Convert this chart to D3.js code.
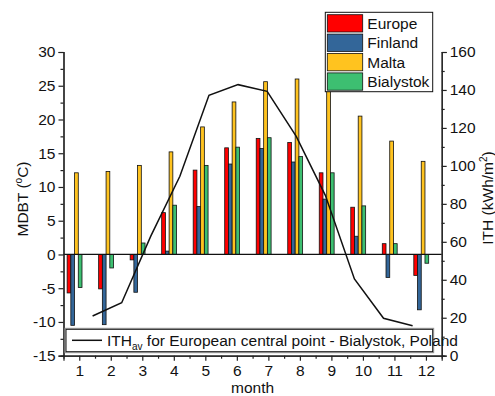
<!DOCTYPE html>
<html>
<head>
<meta charset="utf-8">
<script src="https://cdn.jsdelivr.net/npm/d3@7"></script>
<style>
  body { margin: 0; background: #fff; }
  text { font-family: "Liberation Sans", Arial, sans-serif; fill: #111; }
</style>
</head>
<body>
<div id="chart"></div>
<script>
// monthly mean daily temperatures (°C) and irradiation (kWh/m2)
var months = [1, 2, 3, 4, 5, 6, 7, 8, 9, 10, 11, 12];
var europe = [-5.7, -5.1, -0.8, 6.2, 12.5, 15.8, 17.2, 16.6, 12.1, 7.0, 1.6, -3.1];
var finland = [-10.5, -10.4, -5.6, 0.5, 7.1, 13.4, 15.7, 13.7, 8.2, 2.7, -3.4, -8.2];
var malta = [12.1, 12.3, 13.2, 15.2, 18.9, 22.6, 25.6, 26.0, 24.5, 20.5, 16.8, 13.8];
var bialystok = [-4.9, -2.0, 1.7, 7.3, 13.2, 15.9, 17.3, 14.5, 12.1, 7.2, 1.6, -1.3];
var ith = [20.9, 27.9, 63, 94.5, 137.2, 142.8, 139.3, 115.5, 84.5, 40.4, 19.7, 15.8];

var seriesNames = ["Europe", "Finland", "Malta", "Bialystok"];
var seriesColors = ["#ff0000", "#336699", "#ffc31f", "#3dbf71"];
var leftTicks = [-15, -10, -5, 0, 5, 10, 15, 20, 25, 30];
var rightTicks = [0, 20, 40, 60, 80, 100, 120, 140, 160];
var lineLabel = "for European central point - Bialystok, Poland";

var W = 495, H = 396;
var FS = "15.5px";
var margin = {top: 52, right: 53.3, bottom: 40.3, left: 63.5};
var width = W - margin.left - margin.right,
    height = H - margin.top - margin.bottom;

var svg = d3.select("#chart").append("svg")
  .attr("width", W).attr("height", H);
var g = svg.append("g")
  .attr("transform", "translate(" + margin.left + "," + margin.top + ")");

// scales
var x = d3.scaleLinear().domain([0.5, 12.5]).range([0, width]);
var xLine = d3.scaleLinear().domain([0, 13]).range([0, width]);
var y = d3.scaleLinear().domain([-15, 30]).range([height, 0]);
var y2 = d3.scaleLinear().domain([0, 160]).range([height, 0]);

var step = x(2) - x(1);
var barW = step * 0.118;
var groupOff = -step * 0.385;

// bars
var allSeries = [europe, finland, malta, bialystok];
allSeries.forEach(function(vals, si) {
  g.append("g").selectAll("rect")
    .data(vals)
    .enter().append("rect")
      .attr("x", function(d, i) { return x(months[i]) + groupOff + si * barW; })
      .attr("y", function(d) { return y(Math.max(0, d)); })
      .attr("width", barW)
      .attr("height", function(d) { return Math.abs(y(d) - y(0)); })
      .attr("fill", seriesColors[si])
      .attr("stroke", "#111")
      .attr("stroke-width", 0.8);
});

// zero line
g.append("line")
  .attr("x1", 0).attr("x2", width)
  .attr("y1", y(0)).attr("y2", y(0))
  .attr("stroke", "#111").attr("stroke-width", 1.2);

// ITH line
g.append("path")
  .datum(ith)
  .attr("fill", "none")
  .attr("stroke", "#111")
  .attr("stroke-width", 1.5)
  .attr("d", d3.line()
    .x(function(d, i) { return xLine(months[i]); })
    .y(function(d) { return y2(d); }));

// axes
function styleAxis(sel) {
  sel.selectAll("path, line").attr("stroke", "#222").attr("stroke-width", 1.2);
  sel.selectAll("text").attr("font-size", FS).attr("fill", "#111");
}

var minorLeft = d3.range(-12.5, 30, 5);
var minorRight = d3.range(10, 160, 20);
var minorBottom = d3.range(1.5, 12.5, 1);

g.append("g")
  .call(d3.axisLeft(y).tickValues(minorLeft).tickSize(3).tickFormat(""))
  .call(styleAxis);
g.append("g")
  .call(d3.axisLeft(y).tickValues(leftTicks).tickSize(5).tickPadding(3)
    .tickFormat(function(d) { return d; }))
  .call(styleAxis);

g.append("g")
  .attr("transform", "translate(" + width + ",0)")
  .call(d3.axisRight(y2).tickValues(minorRight).tickSize(3).tickFormat(""))
  .call(styleAxis);
g.append("g")
  .attr("transform", "translate(" + width + ",0)")
  .call(d3.axisRight(y2).tickValues(rightTicks).tickSize(5).tickPadding(3))
  .call(styleAxis);

g.append("g")
  .attr("transform", "translate(0," + height + ")")
  .call(d3.axisBottom(x).tickValues(minorBottom).tickSize(3).tickFormat(""))
  .call(styleAxis);
g.append("g")
  .attr("transform", "translate(0," + height + ")")
  .call(d3.axisBottom(x).tickValues(months).tickSize(5).tickPadding(4))
  .call(styleAxis);

// axis titles
svg.append("text")
  .attr("x", x(6.5) + margin.left).attr("y", 393)
  .attr("text-anchor", "middle").attr("font-size", FS)
  .text("month");

var lt = svg.append("text")
  .attr("transform", "translate(28,199) rotate(-90)")
  .attr("text-anchor", "middle").attr("font-size", FS);
lt.append("tspan").text("MDBT (");
lt.append("tspan").attr("dy", -6).attr("font-size", "10px").text("o");
lt.append("tspan").attr("dy", 6).text("C)");

var rt = svg.append("text")
  .attr("transform", "translate(493,198) rotate(-90)")
  .attr("text-anchor", "middle").attr("font-size", FS);
rt.append("tspan").text("ITH (kWh/m");
rt.append("tspan").attr("dy", -6).attr("font-size", "10px").text("2");
rt.append("tspan").attr("dy", 6).text(")");

// bars legend
var leg = svg.append("g").attr("transform", "translate(325.3,12.3)");
leg.append("rect")
  .attr("width", 107.4).attr("height", 79.4)
  .attr("fill", "#fff").attr("stroke", "#111").attr("stroke-width", 1);
seriesNames.forEach(function(name, i) {
  leg.append("rect")
    .attr("x", 2).attr("y", 2.4 + i * 19.4)
    .attr("width", 35.4).attr("height", 17.3)
    .attr("fill", seriesColors[i])
    .attr("stroke", "#111").attr("stroke-width", 0.8);
  leg.append("text")
    .attr("x", 42).attr("y", 16.5 + i * 19.4)
    .attr("font-size", FS)
    .text(name);
});

// line legend
var leg2 = svg.append("g").attr("transform", "translate(66,329.3)");
leg2.append("rect")
  .attr("x", -1).attr("y", -1)
  .attr("width", 368.7).attr("height", 24.4)
  .attr("fill", "#fff").attr("stroke", "#999").attr("stroke-width", 1);
leg2.append("rect")
  .attr("width", 366.7).attr("height", 22.4)
  .attr("fill", "#fff").attr("stroke", "#111").attr("stroke-width", 1);
leg2.append("line")
  .attr("x1", 6).attr("x2", 36).attr("y1", 11).attr("y2", 11)
  .attr("stroke", "#111").attr("stroke-width", 1.5);
var lt2 = leg2.append("text")
  .attr("x", 41).attr("y", 16.5).attr("font-size", FS);
lt2.append("tspan").text("ITH");
lt2.append("tspan").attr("dy", 4).attr("font-size", "10px").text("av");
lt2.append("tspan").attr("dy", -4).text(" " + lineLabel);
</script>
</body>
</html>
